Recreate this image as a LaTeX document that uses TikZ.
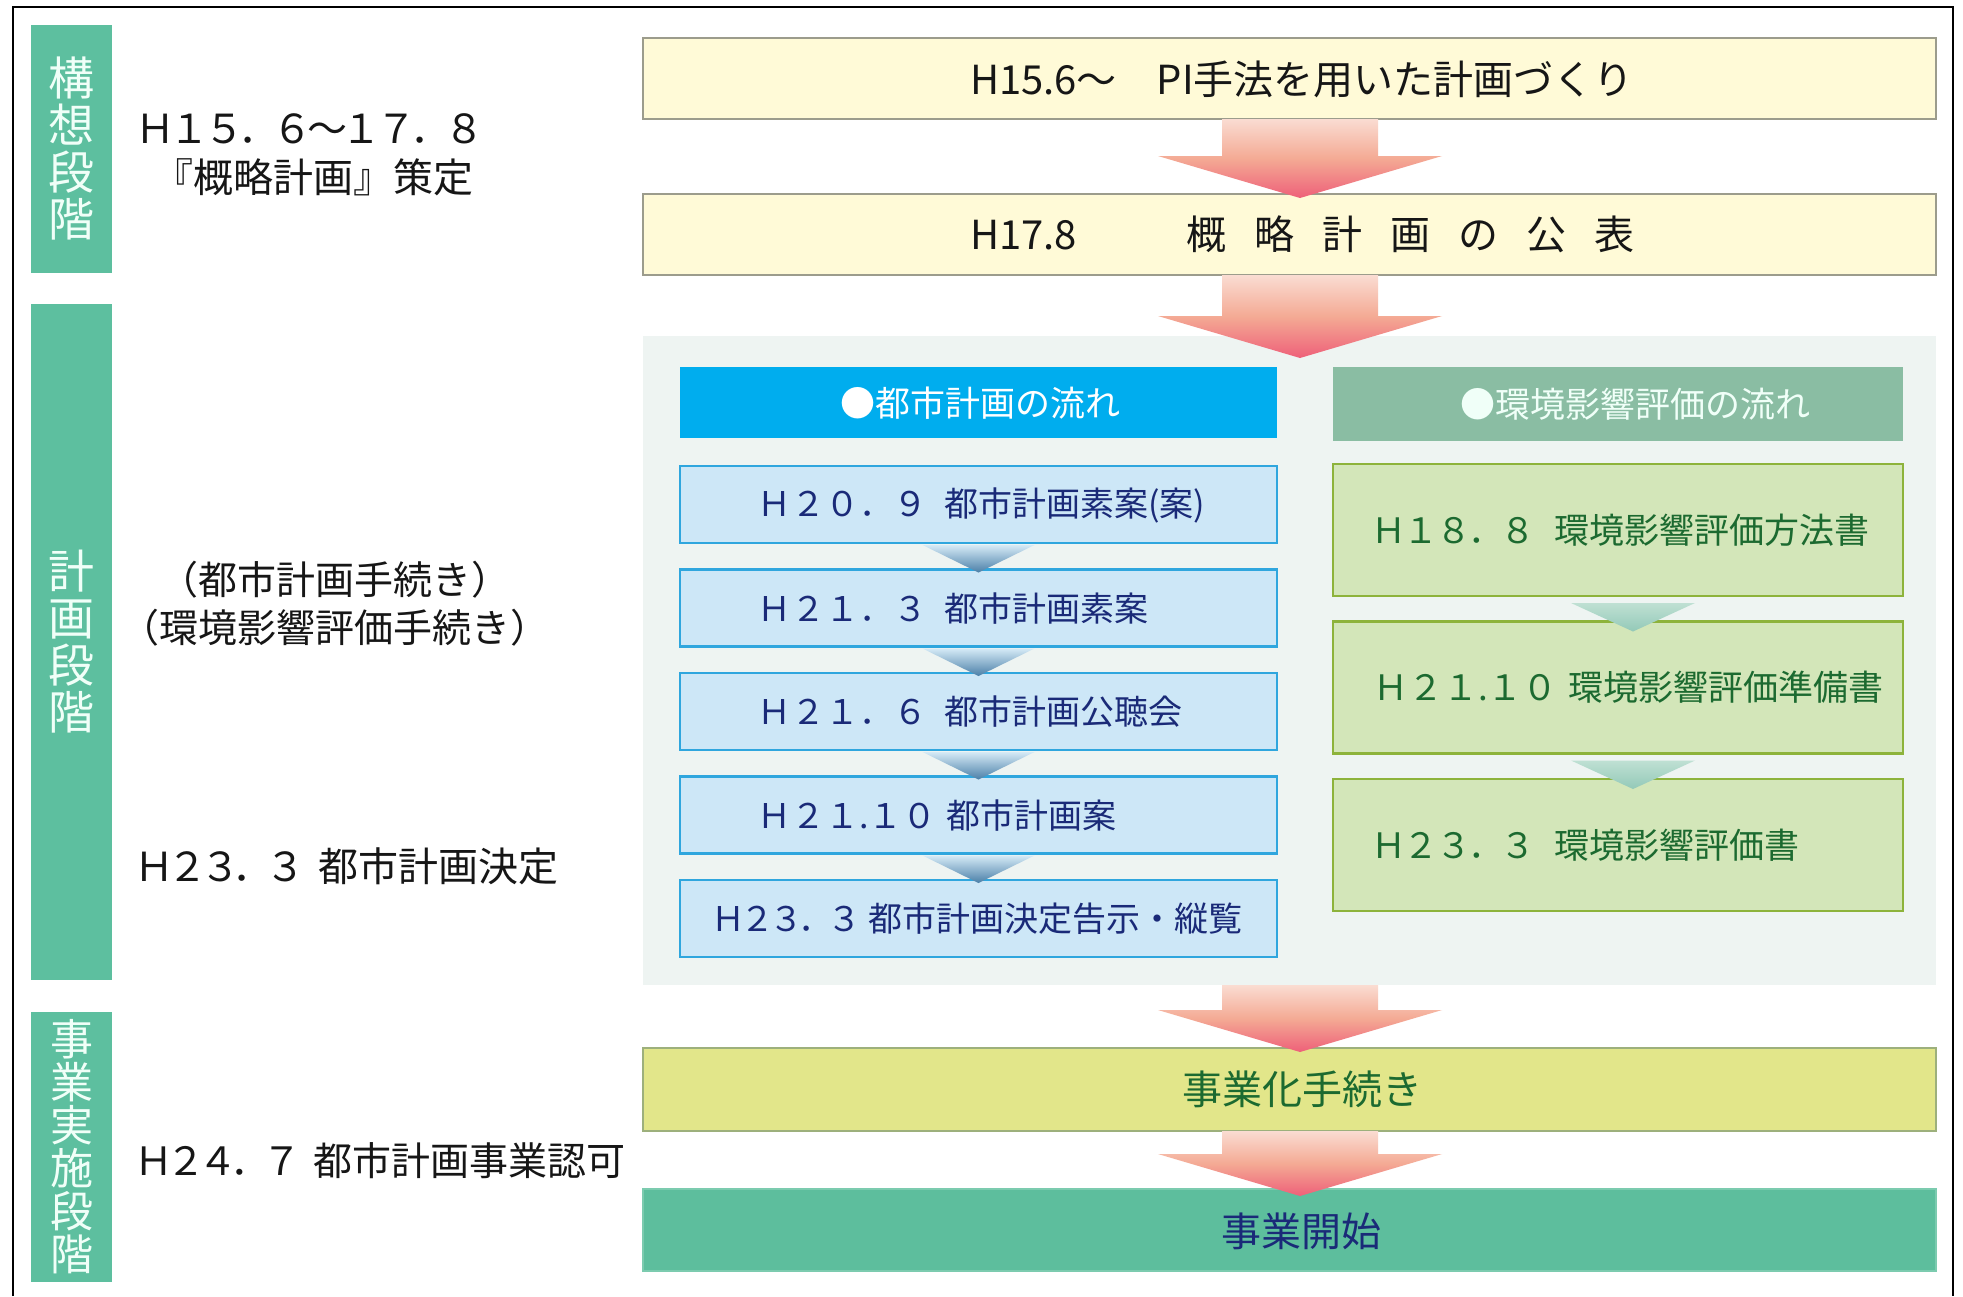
\documentclass[tikz,border=0pt]{standalone}
\usepackage{fontspec}
\usepackage{graphicx}
\setmainfont{Noto Sans CJK JP}
\usetikzlibrary{calc}
\definecolor{cBar}{HTML}{5DBF9F}
\definecolor{cCream}{HTML}{FFFAD7}
\definecolor{cCreamLine}{HTML}{9C9C8C}
\definecolor{cPanel}{HTML}{EEF4F2}
\definecolor{cHdrB}{HTML}{00ADEE}
\definecolor{cHdrG}{HTML}{8ABDA3}
\definecolor{cBoxB}{HTML}{CDE7F7}
\definecolor{cLineB}{HTML}{2FA6DE}
\definecolor{cBoxG}{HTML}{D3E6B9}
\definecolor{cLineG}{HTML}{8DB33B}
\definecolor{cYel}{HTML}{E2E68A}
\definecolor{cYelLine}{HTML}{9DB07C}
\definecolor{cStart}{HTML}{5DBE9D}
\definecolor{cStartLine}{HTML}{7CCBAF}
\definecolor{cArrTop}{HTML}{FADCD2}
\definecolor{cArrMid}{HTML}{F4AA94}
\definecolor{cArrBot}{HTML}{EE6079}
\definecolor{cChevTop}{HTML}{D5EAF6}
\definecolor{cChevBot}{HTML}{4A7FA8}
\definecolor{cTriTop}{HTML}{BFE0D3}
\definecolor{cTriBot}{HTML}{93C9B8}
\definecolor{cNavy}{HTML}{1A2A78}
\definecolor{cDkGreen}{HTML}{1C6A30}
\definecolor{cTxt}{HTML}{161616}
\definecolor{cBarTxt}{HTML}{F0FFF8}
\newcommand\fsz[2]{\fontsize{#1}{#2}\selectfont}
\def\fwend{}
\newcommand\fw[2]{\def\fwW{#1}\fwi#2\fwend}
\def\fwi#1{\ifx#1\fwend\else\makebox[\fwW em]{#1}\expandafter\fwi\fi}
\newcommand\bigarrow[2]{\path[bigarr] let \p1=#1, \p2=#2 in
  (\x2-39pt,\y1) -- (\x2+39pt,\y1) -- (\x2+39pt,\y2+21pt) -- (\x2+71pt,\y2+21pt)
  -- (\x2,\y2) -- (\x2-71pt,\y2+21pt) -- (\x2-39pt,\y2+21pt) -- cycle;}
\newcommand\bluechev[2]{\path[bchev] let \p1=#1, \p2=#2 in
  (\x2-28pt,\y1) -- (\x2+28pt,\y1) -- (\x2,\y2) -- cycle;}
\newcommand\greentri[2]{\path[gtri] let \p1=#1, \p2=#2 in
  (\x2-31pt,\y1) -- (\x2+31pt,\y1) -- (\x2,\y2) -- cycle;}
\tikzset{
  every node/.style={inner sep=0pt, outer sep=0pt},
  rbox/.style={anchor=north west, rectangle},
  barbox/.style={rbox, fill=cBar, minimum width=40.5pt},
  creambox/.style={rbox, fill=cCream, draw=cCreamLine, line width=1pt, minimum width=646.5pt, minimum height=40.5pt},
  bluebox/.style={rbox, fill=cBoxB, draw=cLineB, line width=1.2pt, minimum width=298.5pt, minimum height=38.5pt},
  greenbox/.style={rbox, fill=cBoxG, draw=cLineG, line width=1.2pt, minimum width=285pt, minimum height=66pt},
  bigarr/.style={top color=cArrTop, bottom color=cArrBot, middle color=cArrMid},
  bchev/.style={top color=cChevTop, bottom color=cChevBot},
  gtri/.style={top color=cTriTop, bottom color=cTriBot},
  bartxt/.style={text=cBarTxt, align=center, font=\fsz{23pt}{23.5pt}},
  lbl/.style={text=cTxt},
  btxt/.style={anchor=west, text=cNavy, font=\fsz{17pt}{20pt}},
  gtxt/.style={anchor=west, text=cDkGreen, font=\fsz{17.5pt}{20pt}},
  hdrtxt/.style={text=white, font=\fsz{17.5pt}{20pt}},
}
\begin{document}
\begin{tikzpicture}[x=0.5pt,y=-0.5pt]
\useasboundingbox (0,0) rectangle (1963,1296);
\fill[white] (0,0) rectangle (1963,1296);
% outer frame
\draw[line width=1pt, black] (13,1296) -- (13,7) -- (1953,7) -- (1953,1296);
% stage bars
\node[barbox, minimum height=124pt] (bar1) at (31,25) {};
\node[barbox, minimum height=338pt] (bar2) at (31,304) {};
\node[barbox, minimum height=135pt] (bar3) at (31,1012) {};
\node[bartxt] (v1) at (bar1.center) {構\\想\\段\\階};
\node[bartxt] (v2) at (bar2.center) {計\\画\\段\\階};
\node[bartxt, font=\fsz{21.5pt}{21.5pt}] (v3) at (bar3.center) {事\\業\\実\\施\\段\\階};
% left labels
\node[lbl, font=\fsz{20pt}{20pt}] (l1) at (310,129) {\fw{0.86}{Ｈ１５．６～１７．８}};
\node[lbl, font=\fsz{20pt}{20pt}] (l2) at (313,177) {『概略計画』策定};
\node[lbl, font=\fsz{19.5pt}{19.5pt}] (l3) at (335,580) {（都市計画手続き）};
\node[lbl, font=\fsz{19.5pt}{19.5pt}] (l4) at (335,628) {（環境影響評価手続き）};
\node[lbl, anchor=west, font=\fsz{20pt}{20pt}] (l5) at (138,866) {\fw{0.82}{Ｈ２３．３}\hspace{0.4em}都市計画決定};
\node[lbl, anchor=west, font=\fsz{19.5pt}{19.5pt}] (l6) at (138,1161) {\fw{0.82}{Ｈ２４．７}\hspace{0.4em}都市計画事業認可};
% axis of the big arrows
\coordinate (ax) at (1300,0);
% main boxes
\node[creambox] (top1) at (643,38) {};
\node[creambox] (top2) at (643,194) {};
\node[rbox, fill=cPanel, minimum width=646.5pt, minimum height=324.5pt] (panel) at (643,336) {};
\node[rbox, fill=cHdrB, minimum width=298.5pt, minimum height=35.5pt] (hdrB) at (680,367) {};
\node[rbox, fill=cHdrG, minimum width=285pt, minimum height=37pt] (hdrG) at (1333,367) {};
\node[bluebox] (b1) at (680,466) {};
\node[bluebox] (b2) at (680,569.5) {};
\node[bluebox] (b3) at (680,673) {};
\node[bluebox] (b4) at (680,776.5) {};
\node[bluebox] (b5) at (680,880) {};
\node[greenbox] (g1) at (1333,464) {};
\node[greenbox] (g2) at (1333,621.5) {};
\node[greenbox] (g3) at (1333,779) {};
\node[rbox, fill=cYel, draw=cYelLine, line width=1pt, minimum width=646.5pt, minimum height=41.5pt] (work) at (643,1048) {};
\node[rbox, fill=cStart, draw=cStartLine, line width=1pt, minimum width=646.5pt, minimum height=41pt] (start) at (643,1189) {};
% small connectors
\bluechev{($(b1.south)+(0,2)$)}{($(b2.north)+(0,3)$)}
\bluechev{($(b2.south)+(0,2)$)}{($(b3.north)+(0,3)$)}
\bluechev{($(b3.south)+(0,2)$)}{($(b4.north)+(0,3)$)}
\bluechev{($(b4.south)+(0,2)$)}{($(b5.north)+(0,3)$)}
\greentri{($(g1.south)+(15,7)$)}{($(g2.north)+(15,10)$)}
\greentri{($(g2.south)+(15,7)$)}{($(g3.north)+(15,10)$)}
% big arrows
\bigarrow{(ax |- top1.south)}{($(ax |- top2.north)+(0,4)$)}
\bigarrow{(ax |- top2.south)}{($(ax |- panel.north)+(0,22)$)}
\bigarrow{(ax |- panel.south)}{($(ax |- work.north)+(0,4)$)}
\bigarrow{(ax |- work.south)}{($(ax |- start.north)+(0,7)$)}
% box texts
\node[lbl, anchor=west, font=\fsz{20pt}{20pt}] (t1) at (970,79) {H15.6～\hspace{1em}PI手法を用いた計画づくり};
\node[lbl, anchor=west, font=\fsz{20pt}{20pt}] (t2) at (970,234) {H17.8\hspace{2.75em}概\hspace{0.7em}略\hspace{0.7em}計\hspace{0.7em}画\hspace{0.7em}の\hspace{0.7em}公\hspace{0.7em}表};
\node[hdrtxt] (th1) at (980,403) {●都市計画の流れ};
\node[hdrtxt, text=cBarTxt] (th2) at (1635,404) {●環境影響評価の流れ};
\node[btxt] (tb1) at (757,505) {Ｈ２０．９\hspace{0.5em}都市計画素案(案)};
\node[btxt] (tb2) at (757,608.5) {Ｈ２１．３\hspace{0.5em}都市計画素案};
\node[btxt] (tb3) at (757,712) {Ｈ２１．６\hspace{0.5em}都市計画公聴会};
\node[btxt] (tb4) at (757,815.5) {Ｈ２１.１０\hspace{0.3em}都市計画案};
\node[btxt] (tb5) at (714,919) {\fw{0.85}{Ｈ２３．３}\hspace{0.3em}都市計画決定告示・縦覧};
\node[gtxt] (tg1) at (1373,530) {\fw{0.92}{Ｈ１８．８}\hspace{0.6em}環境影響評価方法書};
\node[gtxt] (tg2) at (1373,687.5) {Ｈ２１.１０\hspace{0.3em}環境影響評価準備書};
\node[gtxt] (tg3) at (1373,845) {\fw{0.92}{Ｈ２３．３}\hspace{0.6em}環境影響評価書};
\node[text=cDkGreen, font=\fsz{20pt}{20pt}] (tw) at (1302,1089) {事業化手続き};
\node[text=cNavy, font=\fsz{20pt}{20pt}] (ts) at (1301,1231) {事業開始};
\end{tikzpicture}
\end{document}
